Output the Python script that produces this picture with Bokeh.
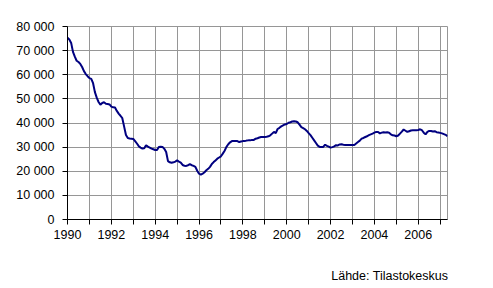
from bokeh.plotting import figure
from bokeh.models import Range1d, FixedTicker, Div
from bokeh.layouts import column
from bokeh.embed import file_html
from bokeh.resources import INLINE

# Monthly values, Jan 1990 - May 2007
years = list(range(1990, 2008))
values_by_year = {
    1990: [75300, 74600, 73200, 69500, 67500, 65800, 65300, 64500, 63200, 61500, 60300, 59400],
    1991: [58600, 58300, 56500, 52800, 50500, 48700, 47600, 48300, 48600, 48000, 47900, 47700],
    1992: [46800, 46500, 46400, 45000, 43900, 43000, 42000, 38500, 35000, 33800, 33600, 33500],
    1993: [33400, 32500, 31500, 30400, 29800, 29400, 29500, 30800, 30200, 29800, 29400, 29100],
    1994: [28800, 28800, 30100, 30200, 30100, 29300, 28000, 24200, 23700, 23500, 23700, 24000],
    1995: [24500, 24000, 23600, 22600, 22300, 22200, 22500, 22900, 22500, 22200, 21800, 20200],
    1996: [19000, 18600, 19000, 19600, 20400, 21000, 21800, 23000, 23800, 24500, 25200, 25700],
    1997: [26200, 27300, 28500, 30100, 31200, 32000, 32500, 32500, 32500, 32500, 32100, 32300],
    1998: [32500, 32500, 32700, 32800, 32800, 33000, 33000, 33500, 33700, 34000, 34200, 34200],
    1999: [34200, 34300, 34500, 34900, 35600, 36300, 35800, 37500, 38000, 38600, 39000, 39400],
    2000: [39600, 40100, 40300, 40600, 40700, 40600, 40300, 39300, 38300, 37900, 37400, 36700],
    2001: [35800, 35000, 33900, 32800, 31700, 30600, 30100, 30100, 30100, 31000, 30500, 30200],
    2002: [29800, 30000, 30300, 30800, 30700, 31100, 31200, 31000, 30900, 30900, 30900, 30900],
    2003: [30900, 30900, 31500, 32100, 32700, 33500, 33800, 34200, 34500, 35000, 35300, 35600],
    2004: [36000, 36300, 36300, 35700, 36000, 36200, 36100, 36200, 36000, 35300, 34900, 34800],
    2005: [34500, 34800, 35600, 36400, 37300, 36800, 36300, 36600, 36900, 37000, 37000, 37000],
    2006: [37100, 37400, 37000, 36000, 35300, 36300, 36700, 36700, 36500, 36600, 36200, 36100],
    2007: [35900, 35700, 35400, 35100, 34500],
}
y_ticks = [0, 10000, 20000, 30000, 40000, 50000, 60000, 70000, 80000]
y_tick_labels = ["0", "10 000", "20 000", "30 000", "40 000", "50 000", "60 000", "70 000", "80 000"]
x_tick_labels = [str(y) if y % 2 == 0 else "" for y in years]
source_text = "Lähde: Tilastokeskus"

t = []
v = []
for yr in years:
    for m, val in enumerate(values_by_year[yr]):
        t.append(yr + m / 12.0)
        v.append(val)

FONT = "Liberation Sans"
GRID = "#969696"

p = figure(width=493, height=250, output_backend="svg", toolbar_location=None,
           x_range=Range1d(1990, t[-1]), y_range=Range1d(0, 80000),
           min_border_left=67, min_border_right=46, min_border_top=26, min_border_bottom=31)
p.background_fill_color = "white"
p.border_fill_color = "white"
p.outline_line_color = GRID
p.outline_line_width = 1

p.line(t, v, line_color="#000080", line_width=2)

p.xaxis.ticker = FixedTicker(ticks=years)
p.xaxis.major_label_overrides = {yr: lab for yr, lab in zip(years, x_tick_labels)}
p.yaxis.ticker = FixedTicker(ticks=y_ticks)
p.yaxis.major_label_overrides = {tk: lab for tk, lab in zip(y_ticks, y_tick_labels)}

for ax in (p.xaxis[0], p.yaxis[0]):
    ax.axis_line_color = "black"
    ax.axis_line_width = 1
    ax.major_tick_line_color = "black"
    ax.major_tick_out = 5
    ax.major_tick_in = 0
    ax.minor_tick_line_color = None
    ax.major_label_text_font = FONT
    ax.major_label_text_font_size = "12.5px"
    ax.major_label_text_color = "black"
p.xaxis.major_label_standoff = 5
p.yaxis.major_label_standoff = 8

p.xgrid.ticker = FixedTicker(ticks=years)
p.ygrid.ticker = FixedTicker(ticks=y_ticks)
p.xgrid.grid_line_color = GRID
p.ygrid.grid_line_color = GRID
p.xgrid.grid_line_width = 1
p.ygrid.grid_line_width = 1

note = Div(text=source_text, width=493, height=38,
           styles={"font-family": FONT, "font-size": "12.5px", "color": "black",
                   "text-align": "right", "line-height": "14px",
                   "padding-top": "14px", "padding-right": "50px",
                   "box-sizing": "border-box", "background-color": "white"})

layout = column(p, note, spacing=0)
open("out.html", "w").write(file_html(layout, INLINE))
